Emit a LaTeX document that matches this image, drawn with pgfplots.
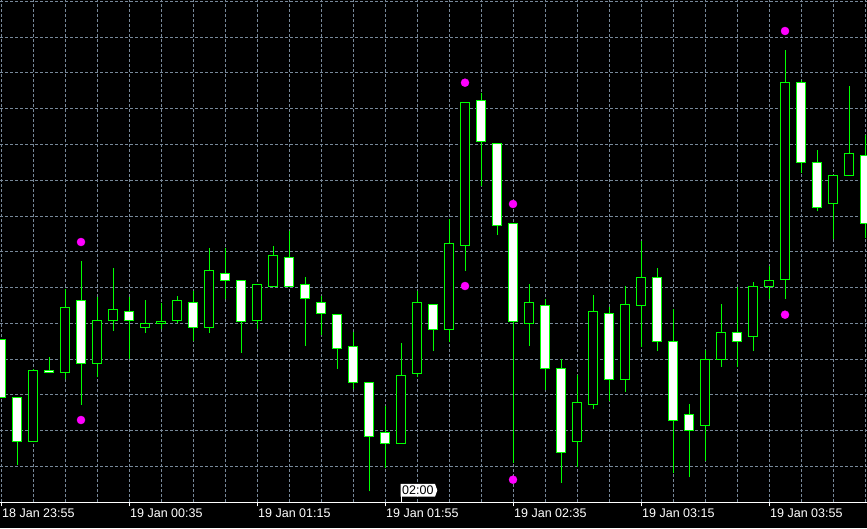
\documentclass[border=0pt]{standalone}
\usepackage{fontspec}
\setmainfont{Liberation Sans}
\usepackage{pgfplots}
\usepackage{pgfplotstable}
\pgfplotsset{compat=1.18}
\usetikzlibrary{shapes.symbols}
\definecolor{mtgrid}{RGB}{119,136,153}
\definecolor{mtlime}{RGB}{0,255,0}
\definecolor{mtdot}{RGB}{255,0,255}

\pgfplotstableread{
x o h l c
0 160.7 160.7 102.7 102.7
1 102.7 102.7 35.3 58.7
2 58.7 130.7 58.7 129.7
3 129.7 142.7 126.7 127.7
4 127.7 210.7 120.7 192.7
5 199.3 238.7 95.3 136.7
6 136.7 202.7 122.7 179.7
7 179.7 232.0 169.3 190.7
8 188.7 202.7 141.3 179.7
9 172.7 200.0 167.3 176.7
10 176.7 196.7 170.7 178.7
11 179.7 204.0 176.7 199.7
12 197.7 208.7 158.7 172.7
13 172.7 251.7 167.3 229.7
14 226.7 251.7 200.7 219.7
15 219.7 219.7 147.3 178.7
16 179.7 215.7 170.7 215.7
17 213.7 254.0 213.0 244.7
18 242.7 269.0 213.7 213.7
19 215.7 222.7 154.3 201.7
20 197.7 203.7 164.7 186.7
21 185.7 185.7 131.3 151.7
22 153.7 167.7 110.7 117.7
23 117.7 117.7 8.7 63.7
24 67.7 94.3 31.7 56.7
25 56.7 156.7 56.7 124.7
26 126.7 208.7 123.3 197.7
27 195.7 195.7 149.3 170.7
28 170.7 280.7 158.3 256.7
29 254.7 397.7 229.3 397.7
30 399.7 406.7 314.3 358.7
31 356.7 356.7 265.3 274.7
32 276.7 276.7 36.7 178.7
33 176.7 216.0 154.3 197.7
34 194.7 200.7 110.3 131.7
35 131.7 140.7 17.3 47.7
36 58.7 124.7 32.7 97.7
37 95.7 205.0 90.7 188.7
38 186.7 192.7 98.7 120.7
39 120.7 213.7 108.3 195.7
40 194.7 259.0 152.7 222.7
41 222.7 231.7 149.3 158.7
42 158.7 190.7 26.7 79.7
43 85.7 95.7 22.7 69.7
44 74.7 149.7 38.7 140.7
45 140.7 195.7 133.3 167.7
46 167.7 213.3 133.3 158.7
47 163.7 217.7 149.3 213.7
48 213.7 234.0 200.7 219.7
49 220.7 450.0 201.3 417.7
50 417.7 419.7 326.7 337.7
51 337.7 350.0 288.7 292.7
52 296.7 324.7 260.7 324.7
53 324.7 414.0 324.7 346.7
54 344.7 365.0 261.7 276.7
}\ohlc

\pgfplotsset{
  mtbase/.style={scale only axis, width=867pt, height=502.3pt,
    xmin=-0.0625, xmax=54.125, ymin=-2.3, ymax=500,
    at={(0pt,0pt)}, anchor=south west},
  mtgridstyle/.style={draw=mtgrid, line width=1pt, dash pattern=on 3pt off 2pt}
}

\begin{document}
\begin{tikzpicture}
\fill[black] (0pt,-25.7pt) rectangle (867pt,502.3pt);
\begin{axis}[mtbase,
  axis x line*=bottom, axis y line*=left,
  x axis line style={white, line width=1pt},
  y axis line style={draw=none},
  xtick={0,8,...,48},
  xticklabels={18 Jan 23:55,19 Jan 00:35,19 Jan 01:15,19 Jan 01:55,19 Jan 02:35,19 Jan 03:15,19 Jan 03:55},
  minor xtick={2,4,6,10,12,14,18,20,22,26,28,30,34,36,38,42,44,46,50,52,54},
  ytick={33.6,69.4,105.1,140.9,176.7,212.5,248.2,284.0,319.8,355.6,391.4,427.1,462.9,498.7},
  yticklabels={},
  ytick style={draw=none},
  ymajorgrids=true, xmajorgrids=true, xminorgrids=true,
  major grid style={mtgridstyle},
  minor grid style={mtgridstyle},
  tick align=outside, major tick length=4pt, minor tick length=0pt,
  xtick style={white, line width=1pt},
  xticklabel style={text=white, anchor=north west, inner sep=0pt, font=\fontsize{12.5}{14}\selectfont, xshift=1pt, yshift=-2.4pt},
]
\addplot[draw=none, mark=none, forget plot,
  error bars/.cd, y dir=plus, y explicit, error mark=none,
  error bar style={draw=mtlime, line width=1pt, solid}]
  table[x=x, y=l, y error expr={\thisrow{h}-\thisrow{l}}] {\ohlc};
\addplot[only marks, mark=*, mark size=4pt, mtdot, mark options={draw=none, fill=mtdot}]
  coordinates {(5,258) (5,80) (29,417.3) (29,214) (32,296) (32,20.3) (49,469) (49,185.3)};
\end{axis}
\begin{axis}[mtbase, hide axis, ybar stacked, bar width=9pt]
\addplot[draw=none, fill=none] table[x=x, y expr={min(\thisrow{o},\thisrow{c})}] {\ohlc};
\addplot[draw=mtlime, fill=black, line width=1pt] table[x=x, y expr={max(\thisrow{c}-\thisrow{o},0)}] {\ohlc};
\addplot[draw=mtlime, fill=white, line width=1pt] table[x=x, y expr={max(\thisrow{o}-\thisrow{c},0)}] {\ohlc};
\draw[white, line width=1pt] (axis cs:25,-2.3) -- ++(0pt,6pt);
\node[signal, signal to=east, signal pointer angle=140, fill=white, text=black,
  inner xsep=1.5pt, inner ysep=2pt, anchor=south west,
  font=\fontsize{12.5}{14}\selectfont] at ([yshift=5.4pt,xshift=-0.5pt]axis cs:25,-2.3) {02:00};
\end{axis}
\pgfresetboundingbox
\useasboundingbox (0pt,-25.7pt) rectangle (867pt,502.3pt);
\end{tikzpicture}
\end{document}
